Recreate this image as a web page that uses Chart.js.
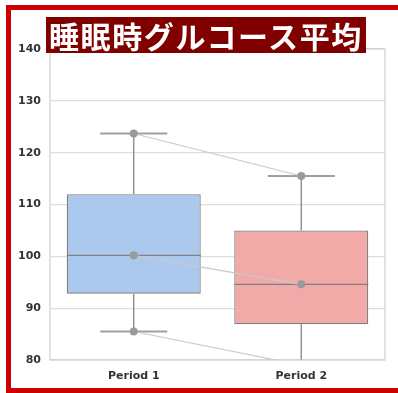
<!DOCTYPE html>
<html>
<head>
<meta charset="utf-8">
<script src="https://cdn.jsdelivr.net/npm/chart.js@4.4.1/dist/chart.umd.min.js"></script>
<style>
  html, body { margin: 0; padding: 0; background: #fff; }
  body { width: 398px; height: 393px; position: relative; overflow: hidden; }
  #frame {
    position: absolute; left: 6px; top: 5px; width: 400px; height: 378px;
    border: 5px solid #cc0000; border-right: none;
  }
  #title {
    position: absolute; left: 46px; top: 17px; height: 36px; line-height: 36px;
    padding: 0 3px 0 3px; background: #800000; color: #fff;
    font-family: "Noto Sans CJK JP", sans-serif; font-weight: bold; font-size: 30px;
    letter-spacing: 1.6px; white-space: nowrap;
  }
  #wrap { position: absolute; left: 0; top: 0; width: 398px; height: 393px; }
</style>
</head>
<body>
<div id="wrap"><canvas id="boxChart"></canvas></div>
<div id="frame"></div>
<div id="title">睡眠時グルコース平均</div>
<script>
// values
const periods = ['Period 1', 'Period 2'];
const whiskerLow = [85.5, 79];
const q1 = [92.8, 86.9];
const medians = [100.2, 94.6];
const q3 = [112, 105];
const whiskerHigh = [123.7, 115.5];
const yTicks = [80, 90, 100, 110, 120, 130, 140];
const boxColors = ['#abc9ec', '#f2aaa8'];

// whiskers, caps and medians drawn from the data through the scales
const boxParts = {
    id: 'boxParts',
    beforeDatasetsDraw(chart) {
        const { ctx, chartArea, scales } = chart;
        const x = scales.x, y = scales.y;
        const meta = chart.getDatasetMeta(chart.data.datasets.length - 1);
        ctx.save();
        ctx.beginPath();
        ctx.rect(chartArea.left, chartArea.top, chartArea.right - chartArea.left, chartArea.bottom - chartArea.top);
        ctx.clip();
        periods.forEach((p, i) => {
            const cx = x.getPixelForValue(i);
            const half = meta.data[i].width / 4;
            ctx.strokeStyle = '#858585';
            ctx.lineWidth = 1.3;
            ctx.beginPath();
            ctx.moveTo(cx, y.getPixelForValue(q3[i]));
            ctx.lineTo(cx, y.getPixelForValue(whiskerHigh[i]));
            ctx.moveTo(cx, y.getPixelForValue(q1[i]));
            ctx.lineTo(cx, y.getPixelForValue(whiskerLow[i]));
            ctx.stroke();
            ctx.strokeStyle = '#a0a0a0';
            ctx.lineWidth = 1.8;
            ctx.beginPath();
            [whiskerHigh[i], whiskerLow[i]].forEach(v => {
                const py = y.getPixelForValue(v);
                ctx.moveTo(cx - half, py);
                ctx.lineTo(cx + half, py);
            });
            ctx.stroke();
        });
        ctx.restore();
    },
    afterDatasetDraw(chart, args) {
        if (args.meta.type !== 'bar') return;
        const { ctx } = chart;
        const y = chart.scales.y;
        ctx.save();
        ctx.strokeStyle = '#808080';
        ctx.lineWidth = 1.3;
        args.meta.data.forEach((bar, i) => {
            const py = y.getPixelForValue(medians[i]);
            ctx.beginPath();
            ctx.moveTo(bar.x - bar.width / 2, py);
            ctx.lineTo(bar.x + bar.width / 2, py);
            ctx.stroke();
        });
        ctx.restore();
    },
    afterDraw(chart) {
        const { ctx, chartArea } = chart;
        ctx.save();
        ctx.strokeStyle = '#cfcfcf';
        ctx.lineWidth = 1.2;
        ctx.strokeRect(chartArea.left, chartArea.top, chartArea.right - chartArea.left, chartArea.bottom - chartArea.top);
        ctx.restore();
    }
};

const lineStyle = {
    type: 'line',
    borderColor: '#c9c9c9',
    borderWidth: 1.2,
    pointRadius: 4,
    pointBackgroundColor: '#9a9a9a',
    pointBorderWidth: 0,
    clip: 0,
    order: 0
};

const ctx = document.getElementById('boxChart').getContext('2d');
new Chart(ctx, {
    type: 'bar',
    data: {
        labels: periods,
        datasets: [
            Object.assign({ label: 'max', data: whiskerHigh }, lineStyle),
            Object.assign({ label: 'median', data: medians }, lineStyle),
            Object.assign({ label: 'min', data: whiskerLow }, lineStyle),
            {
                label: 'box',
                data: periods.map((p, i) => [q1[i], q3[i]]),
                backgroundColor: boxColors,
                borderColor: '#808080',
                borderWidth: 1.3,
                borderSkipped: false,
                barPercentage: 0.8,
                categoryPercentage: 1,
                order: 10
            }
        ]
    },
    options: {
        responsive: true,
        maintainAspectRatio: false,
        animation: false,
        layout: { padding: { top: 49, right: 13, left: 0, bottom: 0 } },
        plugins: {
            legend: { display: false },
            tooltip: { enabled: false },
            title: { display: false }
        },
        scales: {
            x: {
                grid: { display: false, drawTicks: false },
                border: { display: false },
                ticks: {
                    color: '#333',
                    padding: 10,
                    font: { family: 'DejaVu Sans', size: 11, weight: 'bold' }
                },
                afterFit(scale) { scale.height = 33; }
            },
            y: {
                min: 80,
                max: 140,
                afterBuildTicks(scale) { scale.ticks = yTicks.map(v => ({ value: v })); },
                grid: { color: '#dedede', lineWidth: 1.2, drawTicks: false },
                border: { display: false },
                ticks: {
                    color: '#333',
                    padding: 9,
                    font: { family: 'DejaVu Sans', size: 11, weight: 'bold' }
                },
                afterFit(scale) { scale.width = 50; }
            }
        }
    },
    plugins: [boxParts]
});
</script>
</body>
</html>
